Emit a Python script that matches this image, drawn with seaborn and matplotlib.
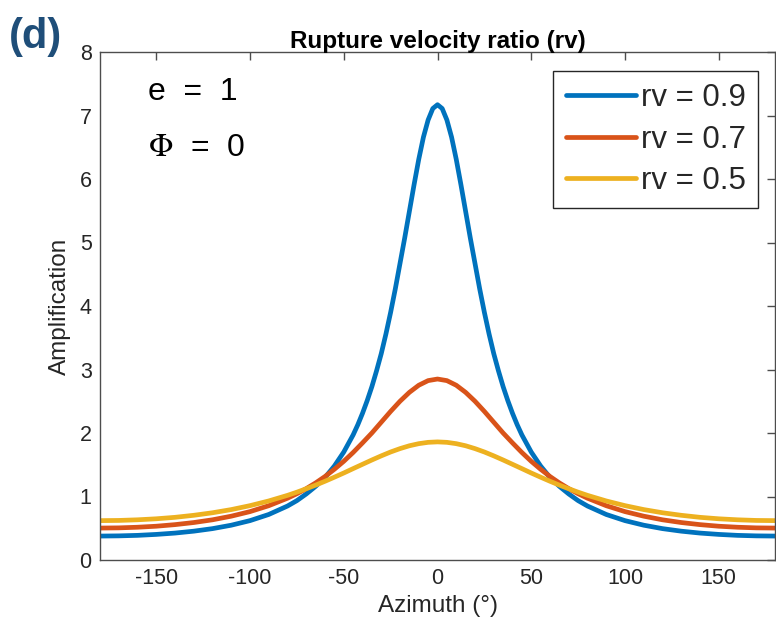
import numpy as np
import pandas as pd
import matplotlib
matplotlib.use("Agg")
import matplotlib.pyplot as plt
import seaborn as sns

# ---- data (curves are symmetric about 0 deg) ----
azimuth_fine = [0, 2.5, 5, 7.5, 10, 12.5, 15, 17.5, 20, 22.5, 25, 27.5, 30, 32.5, 35,
                37.5, 40, 42.5, 45, 50, 55, 60, 65, 70, 75, 80, 90, 100, 110, 120, 130,
                140, 150, 160, 170, 180]
amp_rv09 = [7.17, 7.11, 6.93, 6.66, 6.31, 5.91, 5.49, 5.07, 4.67, 4.27, 3.90, 3.56, 3.25,
            2.98, 2.73, 2.51, 2.31, 2.13, 1.97, 1.70, 1.48, 1.30, 1.16, 1.04, 0.935, 0.85,
            0.717, 0.62, 0.548, 0.494, 0.454, 0.424, 0.403, 0.388, 0.38, 0.377]
azimuth_coarse = [0, 5, 10, 15, 20, 25, 30, 35, 40, 45, 50, 55, 60, 65, 70, 75, 80, 90,
                  100, 110, 120, 130, 140, 150, 160, 170, 180]
amp_rv07 = [2.85, 2.825, 2.752, 2.64, 2.50, 2.34, 2.17, 2.00, 1.844, 1.693, 1.554, 1.429,
            1.315, 1.214, 1.124, 1.044, 0.973, 0.855, 0.762, 0.69, 0.633, 0.59, 0.557,
            0.532, 0.516, 0.506, 0.503]
amp_rv05 = [1.86, 1.853, 1.832, 1.799, 1.754, 1.701, 1.64, 1.575, 1.507, 1.439, 1.37,
            1.304, 1.24, 1.179, 1.122, 1.068, 1.018, 0.93, 0.856, 0.794, 0.744, 0.704,
            0.672, 0.649, 0.633, 0.623, 0.62]
series_labels = ["rv = 0.9", "rv = 0.7", "rv = 0.5"]
colors = ["#0072BD", "#D95319", "#EDB120"]
x_ticks = [-150, -100, -50, 0, 50, 100, 150]
y_ticks = [0, 1, 2, 3, 4, 5, 6, 7, 8]


def mirrored(az, vals):
    az_full = [-a for a in reversed(az[1:])] + list(az)
    v_full = list(reversed(vals[1:])) + list(vals)
    return az_full, v_full


rows = []
for lab, az, vals in zip(series_labels,
                         [azimuth_fine, azimuth_coarse, azimuth_coarse],
                         [amp_rv09, amp_rv07, amp_rv05]):
    a_full, v_full = mirrored(az, vals)
    for a, v in zip(a_full, v_full):
        rows.append({"Azimuth": a, "Amplification": v, "series": lab})
df = pd.DataFrame(rows)

sns.set_style("white")
plt.rcParams["font.family"] = ["Liberation Sans", "DejaVu Sans"]
plt.rcParams["axes.unicode_minus"] = False
plt.rcParams["mathtext.fontset"] = "stix"

fig = plt.figure(figsize=(7.76, 6.33), dpi=100)
ax = fig.add_axes([100 / 776, 1 - 560 / 633, 675 / 776, 508 / 633])

sns.lineplot(data=df, x="Azimuth", y="Amplification", hue="series",
             hue_order=series_labels, palette=colors, linewidth=3.4,
             sort=True, estimator=None, ax=ax)

ax.set_xlim(-180, 180)
ax.set_ylim(0, 8)
ax.set_xticks(x_ticks)
ax.set_yticks(y_ticks)
ax.tick_params(axis="both", which="both", direction="in", length=6, width=1,
               top=True, right=True, labelsize=15.5, colors="#4d4d4d",
               labelcolor="#262626", pad=6)
for s in ax.spines.values():
    s.set_color("#4d4d4d")
    s.set_linewidth(1.0)

ax.set_xlabel("Azimuth (°)", fontsize=17.5, color="#262626", labelpad=4)
ax.set_ylabel("Amplification", fontsize=17.5, color="#262626", labelpad=6)
ax.set_title("Rupture velocity ratio (rv)", fontsize=17.5, fontweight="bold",
             color="#000000", pad=3)

leg = ax.legend(loc="upper right", bbox_to_anchor=(0.975, 0.963), borderaxespad=0,
                fontsize=22.5, frameon=True, fancybox=False, handlelength=2.24,
                handletextpad=0.15, labelspacing=0.36, borderpad=0.4)
leg.get_frame().set_edgecolor("#262626")
leg.get_frame().set_linewidth(1.0)
leg.get_frame().set_alpha(1)
for line in leg.get_lines():
    line.set_linewidth(3.4)

ax.text(0.071, 0.905, "e  =  1", transform=ax.transAxes, fontsize=23,
        ha="left", va="baseline", color="black")
ax.text(0.071, 0.795, r"$\Phi$  =  0", transform=ax.transAxes, fontsize=23,
        ha="left", va="baseline", color="black")

fig.text(0.012, 0.973, "(d)", fontsize=30, fontweight="bold", color="#1F4E79",
         ha="left", va="top")

fig.savefig("out.png", dpi=100)
